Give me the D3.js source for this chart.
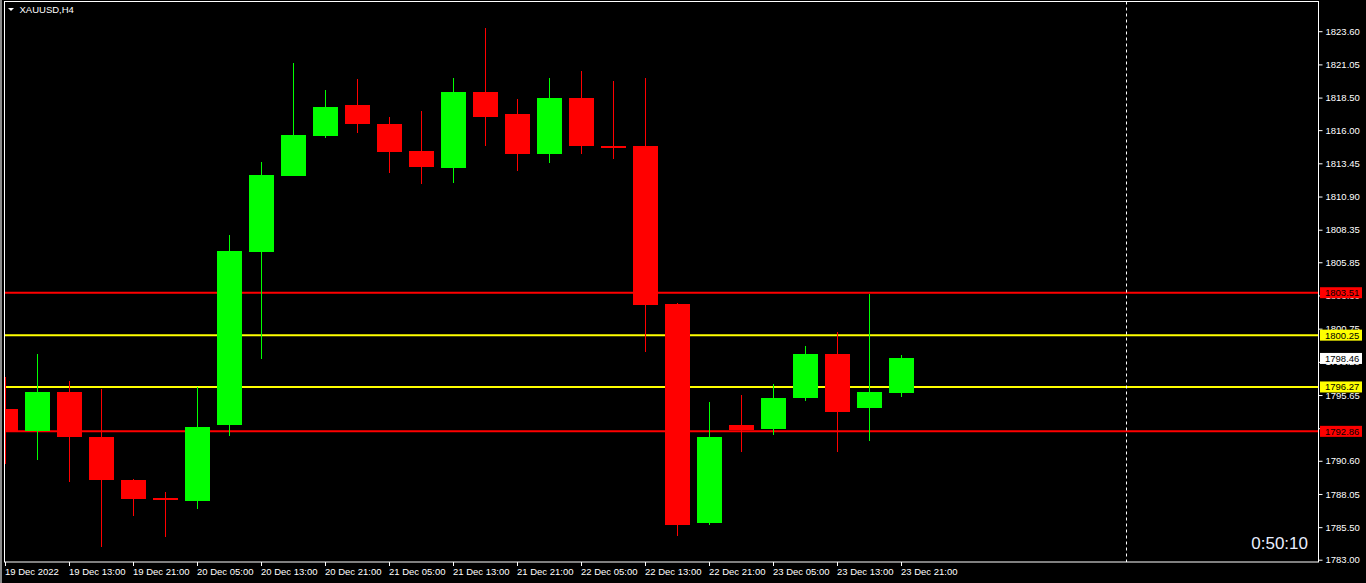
<!DOCTYPE html>
<html><head><meta charset="utf-8">
<script src="https://cdn.jsdelivr.net/npm/d3@7"></script>
<style>html,body{margin:0;padding:0;background:#000;overflow:hidden}svg{display:block}</style>
</head><body>
<script>
// Candle index -> time label (H4 bars, 19 Dec 05:00 first visible)
const times = ["19 Dec 05:00","19 Dec 09:00","19 Dec 13:00","19 Dec 17:00","19 Dec 21:00","20 Dec 01:00","20 Dec 05:00","20 Dec 09:00","20 Dec 13:00","20 Dec 17:00","20 Dec 21:00","21 Dec 01:00","21 Dec 05:00","21 Dec 09:00","21 Dec 13:00","21 Dec 17:00","21 Dec 21:00","22 Dec 01:00","22 Dec 05:00","22 Dec 09:00","22 Dec 13:00","22 Dec 17:00","22 Dec 21:00","23 Dec 01:00","23 Dec 05:00","23 Dec 09:00","23 Dec 13:00","23 Dec 17:00","23 Dec 21:00"];
const opens  = [1794.54,1792.87,1795.92,1792.46,1789.15,1787.77,1787.48,1793.33,1806.64,1812.48,1815.56,1817.92,1816.46,1814.38,1813.08,1818.92,1817.23,1814.15,1818.46,1814.77,1814.77,1802.62,1785.79,1793.31,1793.02,1795.41,1798.77,1794.64,1795.79];
const highs  = [1797.02,1798.77,1796.69,1796.08,1789.23,1788.23,1796.23,1807.92,1813.54,1821.15,1819.08,1819.92,1817.00,1817.46,1820.00,1823.85,1818.38,1820.00,1820.54,1819.77,1820.00,1802.69,1795.15,1795.69,1796.46,1799.38,1800.46,1803.38,1798.69];
const lows   = [1790.33,1790.64,1788.95,1783.95,1786.33,1784.72,1786.87,1792.48,1798.41,1812.48,1815.41,1815.79,1812.72,1811.85,1811.95,1814.77,1812.85,1813.46,1814.15,1813.77,1798.95,1784.79,1785.64,1791.25,1792.56,1795.18,1791.25,1792.10,1795.48];
const closes = [1792.79,1795.85,1792.46,1789.10,1787.69,1787.56,1793.23,1806.69,1812.54,1815.62,1817.77,1816.48,1814.33,1813.18,1818.92,1817.00,1814.15,1818.46,1814.77,1814.62,1802.56,1785.64,1792.46,1793.00,1795.46,1798.77,1794.33,1795.85,1798.46];

const priceTicks = [1823.60,1821.05,1818.50,1816.00,1813.45,1810.90,1808.35,1805.85,1803.30,1800.75,1798.20,1795.65,1793.10,1790.60,1788.05,1785.50,1783.00];
const timeTickIdx = [0,2,4,6,8,10,12,14,16,18,20,22,24,26,28];
const timeTickLabels = ["19 Dec 2022","19 Dec 13:00","19 Dec 21:00","20 Dec 05:00","20 Dec 13:00","20 Dec 21:00","21 Dec 05:00","21 Dec 13:00","21 Dec 21:00","22 Dec 05:00","22 Dec 13:00","22 Dec 21:00","23 Dec 05:00","23 Dec 13:00","23 Dec 21:00"];

const levelPrices = [1803.51,1800.25,1796.27,1792.86];
const levelColors = ["#ff0000","#ffff00","#ffff00","#ff0000"];
const lastPrice = 1798.46;
const separatorIdx = 35;
const symbolTitle = "XAUUSD,H4";
const timerText = "0:50:10";

const W = 1366, H = 583;
const plot = {left: 4.5, right: 1318.5, top: 1.5, bottom: 562};
const font = "'Liberation Sans', Arial, sans-serif";

const x = d3.scaleLinear().domain([0, 1]).range([5.5, 37.5]);
const y = d3.scaleLinear().domain([1783, 1823.6]).range([559.7, 31.2]);

const svg = d3.select("body").append("svg").attr("width", W).attr("height", H)
  .style("font-family", font);
svg.append("rect").attr("width", W).attr("height", H).attr("fill", "#000");
svg.append("rect").attr("x", 0).attr("y", 0).attr("width", 2).attr("height", H).attr("fill", "#8a8a8a");

svg.append("defs").append("clipPath").attr("id", "clip").append("rect")
  .attr("x", 5).attr("y", 2).attr("width", plot.right - 5).attr("height", plot.bottom - 2);

const g = svg.append("g").attr("clip-path", "url(#clip)");

// horizontal levels
g.selectAll("line.level").data(levelPrices).join("line")
  .attr("class", "level")
  .attr("x1", 5).attr("x2", plot.right)
  .attr("y1", d => y(d)).attr("y2", d => y(d))
  .attr("stroke", (d, i) => levelColors[i]).attr("stroke-width", 2);

// separator
g.append("line")
  .attr("x1", Math.round(x(separatorIdx)) + 0.5).attr("x2", Math.round(x(separatorIdx)) + 0.5)
  .attr("y1", plot.top).attr("y2", plot.bottom)
  .attr("stroke", "#fff").attr("stroke-width", 1).attr("stroke-dasharray", "3,3");

const candles = times.map((t, i) => ({i, t, o: opens[i], h: highs[i], l: lows[i], c: closes[i]}));
const col = d => d.c >= d.o ? "#00ff00" : "#ff0000";
const cg = g.selectAll("g.candle").data(candles).join("g").attr("class", "candle")
  .attr("shape-rendering", "crispEdges");
cg.append("rect")
  .attr("x", d => x(d.i) - 0.5).attr("width", 1)
  .attr("y", d => y(d.h)).attr("height", d => y(d.l) - y(d.h))
  .attr("fill", col);
cg.append("rect")
  .attr("x", d => x(d.i) - 12.5).attr("width", 25)
  .attr("y", d => y(Math.max(d.o, d.c)))
  .attr("height", d => Math.max(2, Math.abs(y(d.o) - y(d.c))))
  .attr("fill", col);

// frame
svg.append("rect").attr("x", plot.left).attr("y", plot.top)
  .attr("width", plot.right - plot.left).attr("height", plot.bottom - plot.top)
  .attr("fill", "none").attr("stroke", "#fff").attr("stroke-width", 1);

// right axis
const ya = svg.append("g").attr("transform", `translate(${plot.right},0)`)
  .call(d3.axisRight(y).tickValues(priceTicks).tickFormat(d3.format(".2f")).tickSize(4).tickPadding(3));
ya.select(".domain").remove();
ya.selectAll("line").attr("stroke", "#fff");
ya.selectAll("text").attr("fill", "#fff").attr("font-size", "9.5px").attr("font-family", font);

// bottom axis
const xa = svg.append("g").attr("transform", `translate(0,${plot.bottom})`)
  .call(d3.axisBottom(x).tickValues(timeTickIdx).tickFormat((d, i) => timeTickLabels[i]).tickSize(4).tickPadding(2));
xa.select(".domain").remove();
xa.selectAll("line").attr("stroke", "#fff").attr("transform", "translate(-0.5,0)");
xa.selectAll("text").attr("fill", "#fff").attr("font-size", "9.5px").attr("font-family", font)
  .attr("text-anchor", "start").attr("x", -1);

// price tags
const tags = levelPrices.map((p, i) => ({p, bg: levelColors[i]})).concat([{p: lastPrice, bg: "#ffffff"}]);
const tg = svg.selectAll("g.tag").data(tags).join("g").attr("class", "tag")
  .attr("transform", d => `translate(1320,${y(d.p)})`);
tg.append("rect").attr("x", 0).attr("y", -5.5).attr("width", 42).attr("height", 11).attr("fill", d => d.bg);
tg.append("text").attr("x", 5).attr("y", 3.5).attr("fill", "#000").attr("font-size", "9.5px")
  .text(d => d3.format(".2f")(d.p));

// title
svg.append("path").attr("d", "M8,8 L14,8 L11,11 Z").attr("fill", "#fff");
svg.append("text").attr("x", 19.5).attr("y", 12.5).attr("fill", "#fff").attr("font-size", "9.5px").text(symbolTitle);

// timer
svg.append("text").attr("x", 1308).attr("y", 549).attr("text-anchor", "end")
  .attr("fill", "#e8eeff").attr("font-size", "17px").text(timerText);
</script>
</body></html>
